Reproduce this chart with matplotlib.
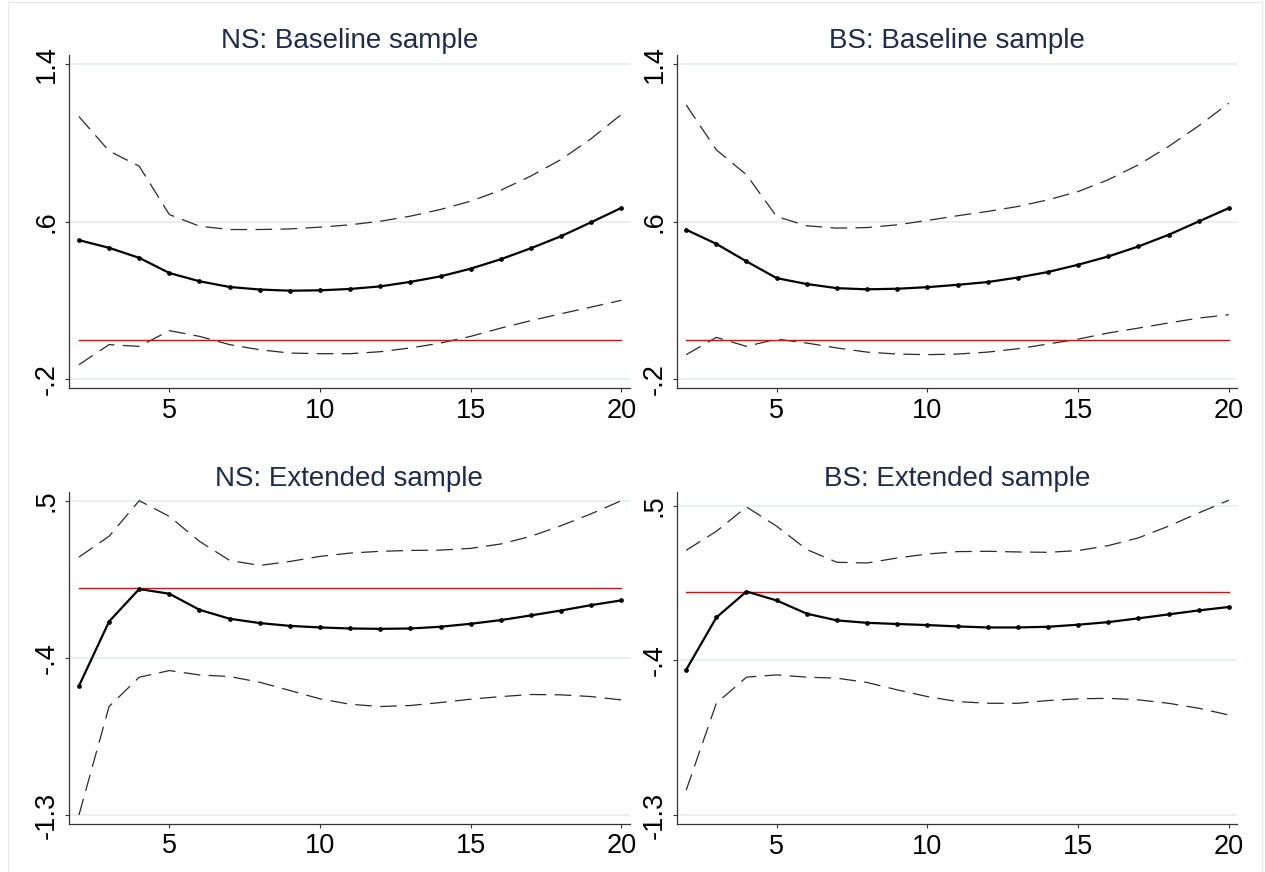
import matplotlib
matplotlib.use("Agg")
import matplotlib.pyplot as plt
from matplotlib.patches import Rectangle

plt.rcParams["font.family"] = ["Liberation Sans", "DejaVu Sans"]
plt.rcParams["lines.scale_dashes"] = False

# Forecast horizon
horizon = list(range(2, 21))

# NS: Baseline sample
ns_base_irf = [0.506, 0.467, 0.416, 0.339, 0.297, 0.268, 0.255, 0.249, 0.251, 0.258,
               0.271, 0.294, 0.322, 0.361, 0.409, 0.465, 0.526, 0.597, 0.670]
ns_base_hi = [1.134, 0.959, 0.882, 0.636, 0.577, 0.560, 0.560, 0.563, 0.572, 0.584,
              0.602, 0.628, 0.662, 0.704, 0.760, 0.832, 0.916, 1.022, 1.145]
ns_base_lo = [-0.127, -0.025, -0.034, 0.046, 0.017, -0.025, -0.051, -0.068, -0.071, -0.071,
              -0.061, -0.042, -0.017, 0.017, 0.059, 0.097, 0.132, 0.166, 0.200]

# BS: Baseline sample
bs_base_irf = [0.559, 0.487, 0.398, 0.313, 0.283, 0.262, 0.256, 0.259, 0.267, 0.279,
               0.293, 0.316, 0.344, 0.381, 0.423, 0.474, 0.533, 0.601, 0.669]
bs_base_hi = [1.193, 0.965, 0.838, 0.626, 0.579, 0.567, 0.570, 0.584, 0.606, 0.630,
              0.652, 0.677, 0.711, 0.753, 0.813, 0.889, 0.982, 1.087, 1.202]
bs_base_lo = [-0.076, 0.012, -0.034, 0.003, -0.017, -0.042, -0.063, -0.073, -0.076, -0.073,
              -0.063, -0.046, -0.022, 0.003, 0.034, 0.059, 0.085, 0.110, 0.127]

# NS: Extended sample
ns_ext_irf = [-0.561, -0.192, -0.006, -0.033, -0.125, -0.176, -0.201, -0.217, -0.226, -0.232,
              -0.234, -0.232, -0.222, -0.205, -0.184, -0.157, -0.129, -0.098, -0.071]
ns_ext_hi = [0.177, 0.296, 0.500, 0.410, 0.267, 0.158, 0.129, 0.152, 0.181, 0.200,
             0.210, 0.215, 0.217, 0.227, 0.252, 0.296, 0.357, 0.425, 0.500]
ns_ext_lo = [-1.300, -0.679, -0.511, -0.473, -0.498, -0.507, -0.540, -0.587, -0.635, -0.666,
             -0.679, -0.673, -0.656, -0.637, -0.622, -0.610, -0.612, -0.622, -0.641]

# BS: Extended sample
bs_ext_irf = [-0.455, -0.151, 0.000, -0.052, -0.129, -0.168, -0.182, -0.189, -0.195, -0.203,
              -0.209, -0.209, -0.205, -0.193, -0.178, -0.156, -0.133, -0.110, -0.090]
bs_ext_hi = [0.240, 0.350, 0.492, 0.380, 0.244, 0.170, 0.166, 0.195, 0.218, 0.232,
             0.234, 0.230, 0.228, 0.238, 0.267, 0.312, 0.380, 0.457, 0.531]
bs_ext_lo = [-1.155, -0.650, -0.498, -0.485, -0.498, -0.504, -0.529, -0.572, -0.611, -0.640,
             -0.650, -0.650, -0.634, -0.624, -0.621, -0.630, -0.650, -0.679, -0.718]

titles = ["NS: Baseline sample", "BS: Baseline sample",
          "NS: Extended sample", "BS: Extended sample"]
base_yticks = [-0.2, 0.6, 1.4]
base_yticklabels = ["-.2", ".6", "1.4"]
ext_yticks = [-1.3, -0.4, 0.5]
ext_yticklabels = ["-1.3", "-.4", ".5"]
xticks = [5, 10, 15, 20]
reference_level = 0.0

W, H = 1265, 872
fig = plt.figure(figsize=(W / 100, H / 100), dpi=100)
fig.patch.set_facecolor("white")

# faint outer frame of the graph region
fig.add_artist(Rectangle((8 / W, 0.0), (1262 - 8) / W, 1 - 2 / H, transform=fig.transFigure,
                         fill=False, edgecolor="#e6e6e6", linewidth=0.8))


def px_axes(left, top, right, bottom):
    return fig.add_axes([left / W, 1 - bottom / H, (right - left) / W, (bottom - top) / H])


panels = [
    dict(box=(69.3, 55.0, 629.5, 388.3), irf=ns_base_irf, hi=ns_base_hi, lo=ns_base_lo,
         yticks=base_yticks, ylabels=base_yticklabels, ylim=(-0.247, 1.447), xlim=(1.68, 20.27)),
    dict(box=(677.3, 55.0, 1237.0, 388.3), irf=bs_base_irf, hi=bs_base_hi, lo=bs_base_lo,
         yticks=base_yticks, ylabels=base_yticklabels, ylim=(-0.247, 1.447), xlim=(1.705, 20.27)),
    dict(box=(69.3, 492.3, 629.5, 823.7), irf=ns_ext_irf, hi=ns_ext_hi, lo=ns_ext_lo,
         yticks=ext_yticks, ylabels=ext_yticklabels, ylim=(-1.350, 0.548), xlim=(1.68, 20.27)),
    dict(box=(677.3, 492.3, 1237.0, 824.0), irf=bs_ext_irf, hi=bs_ext_hi, lo=bs_ext_lo,
         yticks=ext_yticks, ylabels=ext_yticklabels, ylim=(-1.352, 0.577), xlim=(1.705, 20.27)),
]

for title, p in zip(titles, panels):
    ax = px_axes(*p["box"])
    ax.set_facecolor("white")
    ax.set_xlim(*p["xlim"])
    ax.set_ylim(*p["ylim"])

    for yv in p["yticks"]:
        ax.axhline(yv, color="#e4eced", linewidth=1.2, zorder=0)

    ax.plot(horizon, p["hi"], color="#2a2a2a", linewidth=0.9, dashes=(12, 6), zorder=2)
    ax.plot(horizon, p["lo"], color="#2a2a2a", linewidth=0.9, dashes=(12, 6), zorder=2)
    ax.plot([horizon[0], horizon[-1]], [reference_level, reference_level],
            color="#ff0000", linewidth=1.0, zorder=3)
    ax.plot(horizon, p["irf"], color="black", linewidth=1.6, marker="o", markersize=2.4,
            zorder=4)

    ax.set_xticks(xticks)
    ax.set_xticklabels([str(t) for t in xticks])
    ax.set_yticks(p["yticks"])
    ax.set_yticklabels(p["ylabels"], rotation=90, va="center")
    ax.tick_params(axis="both", labelsize=19.5, colors="black", length=3, width=0.8,
                   color="#333333")
    ax.tick_params(axis="x", pad=4)
    ax.tick_params(axis="y", pad=4)

    for side in ("top", "right"):
        ax.spines[side].set_visible(False)
    for side in ("left", "bottom"):
        ax.spines[side].set_color("#333333")
        ax.spines[side].set_linewidth(0.9)

    ax.set_title(title, fontsize=20, color="#1f2b4a", pad=4.8)

fig.savefig("out.png", dpi=100, facecolor="white")
